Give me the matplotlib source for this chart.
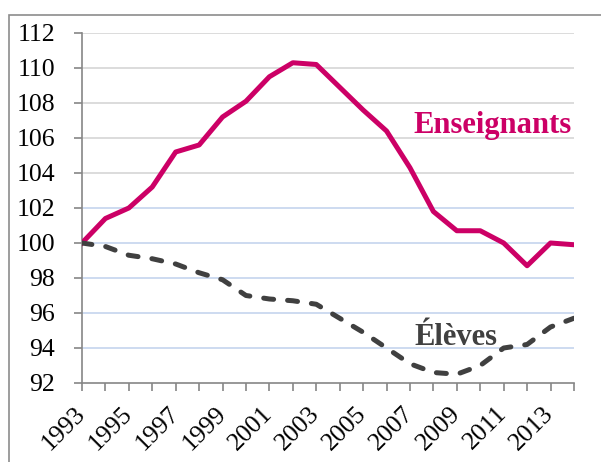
import matplotlib
matplotlib.use("Agg")
import matplotlib.pyplot as plt
from matplotlib.patches import Rectangle
from matplotlib.transforms import ScaledTranslation

years = list(range(1993, 2015))
enseignants = [100.0, 101.4, 102.0, 103.2, 105.2, 105.6, 107.2, 108.1, 109.5, 110.3, 110.2,
               108.9, 107.6, 106.4, 104.3, 101.8, 100.7, 100.7, 100.0, 98.7, 100.0, 99.9]
eleves = [100.0, 99.8, 99.3, 99.1, 98.8, 98.3, 97.9, 97.0, 96.8, 96.7, 96.5,
          95.7, 94.9, 94.0, 93.1, 92.6, 92.5, 93.0, 94.0, 94.2, 95.2, 95.7]
yticks = list(range(92, 113, 2))
xlabels = [str(y) for y in range(1993, 2014, 2)]

serif = "Liberation Serif"
fig = plt.figure(figsize=(6.01, 4.62), dpi=100)
ax = fig.add_axes([0.1364, 0.171, 0.8186, 0.7576])

# grid: grey in the upper part, pale blue below 102 (as in the source)
for v in yticks[1:]:
    col = "#d9d9d9" if v >= 104 else "#c9d8ef"
    ax.axhline(v, color=col, lw=1.3, zorder=0)

ax.plot(years, enseignants, color="#cc0066", lw=3.6, solid_joinstyle="round", zorder=3)
ax.plot(years, eleves, color="#404040", lw=3.6, ls=(0, (2.0, 2.8)),
        dash_capstyle="round", zorder=3)

ax.set_xlim(1993, 2014)
ax.set_ylim(92, 112)
ax.set_yticks(yticks)
ax.set_yticklabels([str(v) for v in yticks], fontsize=18.5, family=serif)
ax.set_xticks(range(1993, 2014, 2))
ax.set_xticks(years, minor=True)
ax.set_xticklabels(xlabels, fontsize=18.5, family=serif, rotation=45,
                   ha="right", va="center", rotation_mode="anchor")
shift = ScaledTranslation(3 / 100, 0, fig.dpi_scale_trans)
for lab in ax.get_xticklabels():
    lab.set_transform(lab.get_transform() + shift)
ax.tick_params(axis="x", which="both", length=5.8, color="#868686", width=1.2, pad=14)
ax.tick_params(axis="y", length=5.8, color="#868686", width=1.2, pad=13.5)

for s in ["top", "right"]:
    ax.spines[s].set_visible(False)
for s in ["left", "bottom"]:
    ax.spines[s].set_color("#868686")
    ax.spines[s].set_linewidth(1.2)

ax.text(2007.13, 106.29, "Enseignants", color="#cc0066", fontsize=22, weight="bold",
        family=serif, ha="left", va="baseline")
ax.text(2007.17, 94.17, "Élèves", color="#404040", fontsize=22, weight="bold",
        family=serif, ha="left", va="baseline")

fig.patches.append(Rectangle((9 / 601, -0.5), 2, (462 - 15) / 462 + 0.5,
                             transform=fig.transFigure, fill=False,
                             edgecolor="#8c8c8c", lw=1.2))

fig.savefig("out.png", dpi=100)
